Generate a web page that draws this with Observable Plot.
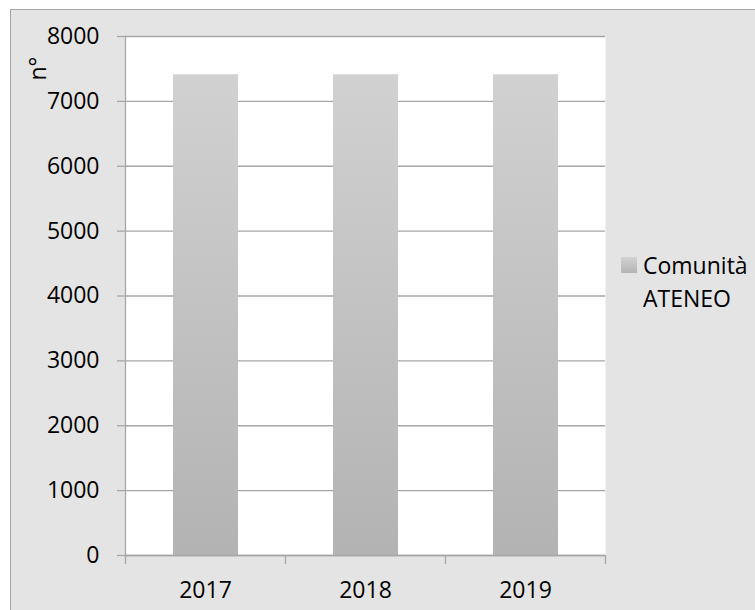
<!DOCTYPE html>
<html>
<head>
<meta charset="utf-8">
<script src="https://cdn.jsdelivr.net/npm/d3@7"></script>
<script src="https://cdn.jsdelivr.net/npm/@observablehq/plot@0.6"></script>
<style>
  html, body { margin: 0; padding: 0; background: #ffffff; overflow: hidden; }
  #wrap { position: relative; width: 755px; height: 610px; overflow: hidden; }
  #bg { position: absolute; left: 10px; top: 9px; width: 800px; height: 700px;
        background: #e4e4e4; border-left: 1.5px solid #a6a6a6; border-top: 1.5px solid #a6a6a6; }
  #chart { position: absolute; left: 0; top: 0; }
  #legend { position: absolute; left: 621px; top: 249px; font-family: "Open Sans", sans-serif;
            font-size: 23px; color: #000; line-height: 33px; display: flex; align-items: flex-start; }
  #legend .sw { width: 16px; height: 16px; margin-top: 8px; margin-right: 6px;
                background: linear-gradient(#d2d2d2, #b4b4b4); flex: none; }
  #legend .lab { width: 115px; }
</style>
</head>
<body>
<div id="wrap">
  <div id="bg"></div>
  <div id="chart"></div>
  <div id="legend"></div>
</div>
<script>
const years = ["2017", "2018", "2019"];
const values = [7410, 7410, 7410];
const seriesName = "Comunità ATENEO";
const yTicks = [0, 1000, 2000, 3000, 4000, 5000, 6000, 7000, 8000];
const axisLabel = "n°";

const data = years.map((y, i) => ({year: y, idx: i, value: values[i]}));

const defs = () => {
  const g = d3.create("svg:defs");
  const lg = g.append("linearGradient").attr("id", "barGrad")
    .attr("x1", 0).attr("y1", 0).attr("x2", 0).attr("y2", 1);
  lg.append("stop").attr("offset", "0%").attr("stop-color", "#d1d1d1");
  lg.append("stop").attr("offset", "100%").attr("stop-color", "#b3b3b3");
  return g.node();
};

const chart = Plot.plot({
  width: 755,
  height: 610,
  marginLeft: 125,
  marginRight: 150,
  marginTop: 36,
  marginBottom: 55,
  style: { background: "transparent", fontFamily: "'Open Sans', sans-serif", fontSize: "23px", color: "#000" },
  x: { domain: [0, years.length] },
  y: { domain: [0, 8000] },
  marks: [
    defs,
    Plot.frame({ fill: "white", stroke: "none" }),
    Plot.gridY(yTicks, { stroke: "#a6a6a6", strokeOpacity: 1, strokeWidth: 1.3 }),
    Plot.rectY(data, {
      x1: d => d.idx, x2: d => d.idx + 1, y: "value",
      insetLeft: 48, insetRight: 47, fill: "url(#barGrad)"
    }),
    Plot.ruleY([0], { stroke: "#a6a6a6", strokeWidth: 1.3 }),
    Plot.frame({ anchor: "left", stroke: "#a6a6a6", strokeWidth: 1.3 }),
    Plot.axisY({ ticks: yTicks, tickSize: 8, tickPadding: 18, stroke: "#a6a6a6", strokeWidth: 1.3,
                 tickFormat: d => String(d), label: null, fontSize: 23, fill: "#000" }),
    Plot.axisX({ ticks: d3.range(years.length + 1), tickSize: 9, tickFormat: () => "",
                 stroke: "#a6a6a6", strokeWidth: 1.3, label: null }),
    Plot.axisX({ ticks: years.map((y, i) => i + 0.5), tickSize: 0, tickPadding: 26,
                 tickFormat: d => years[Math.floor(d)], label: null, fontSize: 23, fill: "#000" }),
    Plot.text([axisLabel], { frameAnchor: "top-left", rotate: -90, dx: -87, dy: 32,
                             textAnchor: "middle", lineAnchor: "middle", fontSize: 23, fill: "#000" })
  ]
});
document.getElementById("chart").appendChild(chart);

const legend = document.getElementById("legend");
const sw = document.createElement("div"); sw.className = "sw";
const lab = document.createElement("div"); lab.className = "lab"; lab.textContent = seriesName;
legend.appendChild(sw); legend.appendChild(lab);
</script>
</body>
</html>
